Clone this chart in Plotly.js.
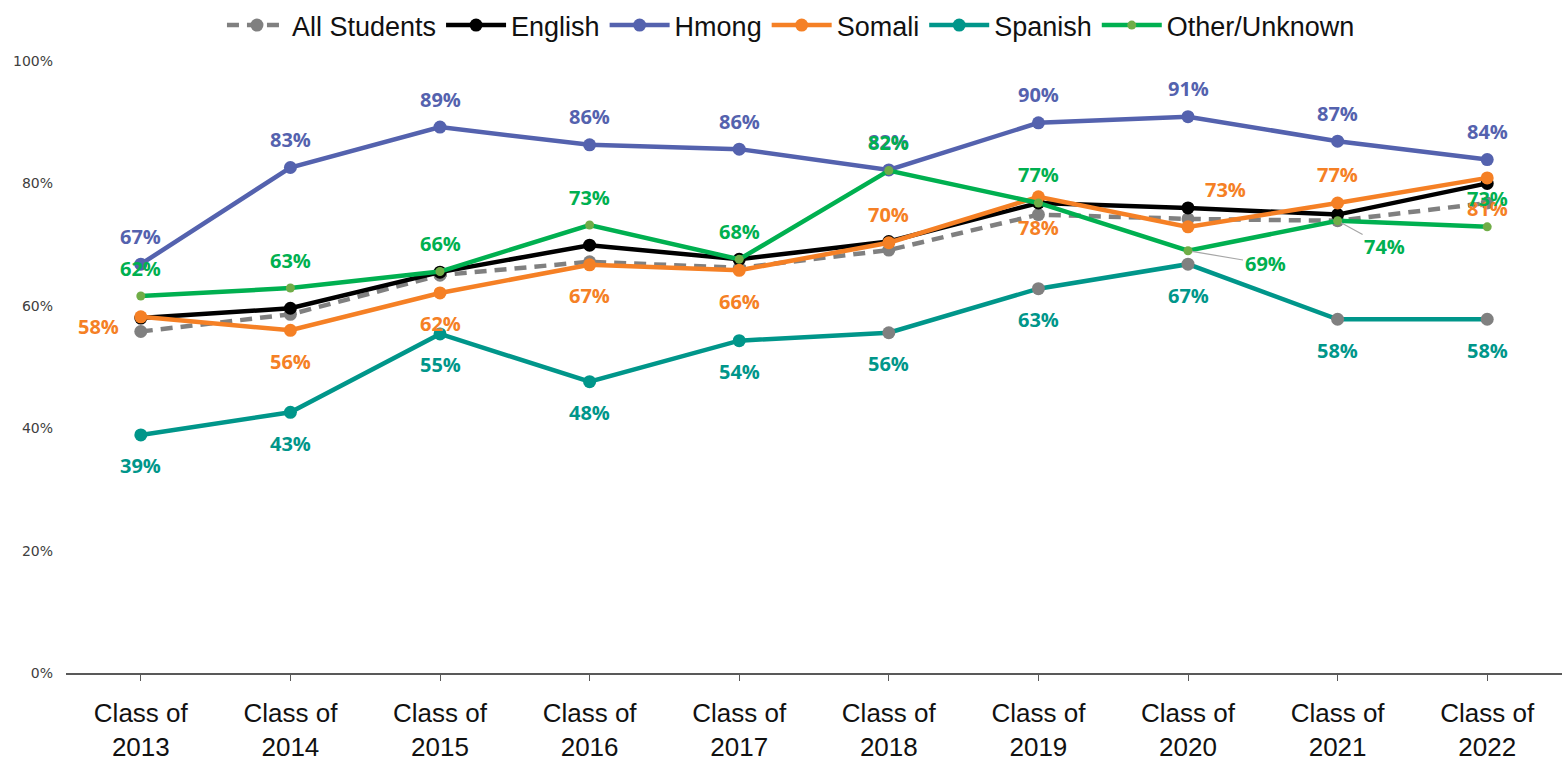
<!DOCTYPE html>
<html>
<head>
<meta charset="utf-8">
<script src="https://cdn.plot.ly/plotly-3.0.1.min.js"></script>
<style>
  html, body { margin: 0; padding: 0; background: #fff; }
  #plot { width: 1563px; height: 760px; }
</style>
</head>
<body>
<div id="plot"></div>
<script>
// graduation rates by home language, classes of 2013-2022
var classes = ['Class of<br>2013', 'Class of<br>2014', 'Class of<br>2015', 'Class of<br>2016', 'Class of<br>2017',
  'Class of<br>2018', 'Class of<br>2019', 'Class of<br>2020', 'Class of<br>2021', 'Class of<br>2022'];

var allStudents = [55.8, 58.6, 65.0, 67.2, 66.2, 69.1, 74.9, 74.2, 73.9, 76.8];
var english     = [58.0, 59.6, 65.5, 69.9, 67.6, 70.5, 76.8, 76.0, 74.9, 80.0];
var hmong       = [66.8, 82.6, 89.2, 86.3, 85.6, 82.2, 89.9, 90.9, 86.9, 83.9];
var somali      = [58.2, 56.0, 62.1, 66.7, 65.8, 70.3, 77.8, 72.9, 76.8, 80.9];
var spanish     = [38.9, 42.6, 55.4, 47.6, 54.3, 55.6, 62.8, 66.8, 57.8, 57.8];
var other       = [61.6, 62.9, 65.6, 73.2, 67.6, 82.1, 76.8, 69.0, 73.9, 72.9];

var yTicks = [0, 20, 40, 60, 80, 100];
var yTickText = ['0%', '20%', '40%', '60%', '80%', '100%'];

var GRAY = '#808080', BLUE = '#5462AE', ORANGE = '#F58025', TEAL = '#00968A',
    GREEN = '#00B050', LGREEN = '#70AD47';

function line(name, y, color, mcolor, size, dash) {
  return {
    x: classes, y: y, name: name, type: 'scatter', mode: 'lines+markers',
    line: { color: color, width: 4.5, dash: dash || 'solid' },
    marker: { color: mcolor || color, size: size || 13 },
    hoverinfo: 'skip'
  };
}

// spanish markers switch to gray from 2018 on, as in the original
var spanishMarkers = spanish.map(function (v, i) { return i < 5 ? TEAL : GRAY; });

var data = [
  line('All Students', allStudents, GRAY, GRAY, 13, '12px,8px'),
  line('English', english, '#000000'),
  line('Hmong', hmong, BLUE),
  line('Somali', somali, ORANGE),
  line('Spanish', spanish, TEAL, spanishMarkers),
  line('Other/Unknown', other, GREEN, LGREEN, 9)
];

// label placement: a = above, b = below, l = left, r = up-right, n = leader line
var labelSets = [
  { y: hmong,   color: BLUE,   place: 'aaaaaaaaaa' },
  { y: somali,  color: ORANGE, place: 'lbbbbabrab' },
  { y: spanish, color: TEAL,   place: 'bbbbbbbbbb' },
  { y: other,   color: GREEN,  place: 'aaaaaaanna' }
];
var leaders = { 7: [77, 13], 8: [47, 26] };

var annotations = [];
labelSets.forEach(function (s) {
  s.y.forEach(function (v, i) {
    var p = s.place[i];
    var a = {
      x: classes[i], y: v, text: Math.round(v) + '%', showarrow: false,
      font: { family: 'Open Sans, sans-serif', size: 20, color: s.color, weight: 700 },
      xshift: 0, yshift: 0
    };
    if (p === 'a') a.yshift = 28;
    if (p === 'b') a.yshift = -31;
    if (p === 'l') { a.xshift = -42; a.yshift = -10; }
    if (p === 'r') { a.xshift = 37; a.yshift = 37; }
    if (p === 'n') {
      a.showarrow = true; a.arrowhead = 0; a.arrowwidth = 1.2; a.arrowcolor = '#A6A6A6';
      a.ax = leaders[i][0]; a.ay = leaders[i][1]; a.standoff = 4;
    }
    annotations.push(a);
  });
});

var layout = {
  width: 1563, height: 760,
  margin: { l: 66, r: 1, t: 61, b: 87 },
  paper_bgcolor: '#fff', plot_bgcolor: '#fff',
  showlegend: true,
  legend: {
    orientation: 'h', xref: 'paper', yref: 'paper',
    x: 0.4846, xanchor: 'center', y: 1.098, yanchor: 'top',
    font: { family: 'Liberation Sans, Arial, sans-serif', size: 27, color: '#111' },
    itemwidth: 60, itemclick: false
  },
  xaxis: {
    type: 'category', range: [-0.5, 9.5], showgrid: false, showline: true,
    linecolor: '#595959', linewidth: 1.5,
    ticks: 'outside', ticklen: 6, tickcolor: '#595959',
    tickfont: { family: 'Liberation Sans, Arial, sans-serif', size: 26, color: '#111' },
    ticklabelstandoff: 10, automargin: false, fixedrange: true
  },
  yaxis: {
    range: [0, 100], tickvals: yTicks, ticktext: yTickText,
    showgrid: false, zeroline: false, showline: false,
    tickfont: { family: 'DejaVu Sans, Verdana, sans-serif', size: 14, color: '#404040' },
    ticklabelstandoff: 12, automargin: false, fixedrange: true
  },
  annotations: annotations
};

Plotly.newPlot('plot', data, layout, { displayModeBar: false, staticPlot: true });
</script>
</body>
</html>
